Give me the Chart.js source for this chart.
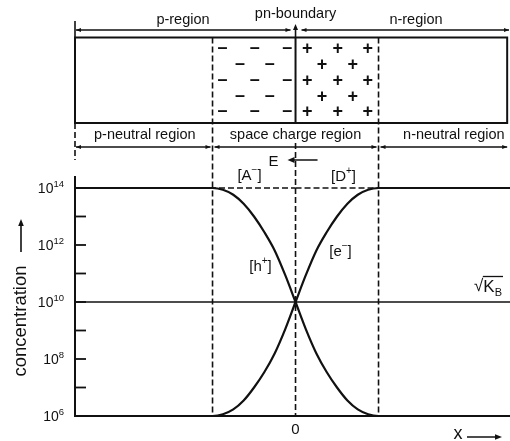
<!DOCTYPE html>
<html>
<head>
<meta charset="utf-8">
<script src="https://cdn.jsdelivr.net/npm/chart.js@4/dist/chart.umd.min.js"></script>
<style>
  html, body { margin: 0; padding: 0; background: #fff; }
  canvas { display: block; }
</style>
</head>
<body>
<canvas id="c" width="510" height="441"></canvas>
<script>
// Position across the junction, in units of the space-charge half-width (pn-boundary at 0)
const depletionX = [-1, -0.875, -0.75, -0.625, -0.5, -0.375, -0.25, -0.125, 0,
                    0.125, 0.25, 0.375, 0.5, 0.625, 0.75, 0.875, 1];
// Hole concentration [h+] through the space-charge region
const holeConc = [1e14, 8.7e13, 5.8e13, 2.8e13, 1e13, 2.8e12, 6.3e11, 8.9e10, 1e10,
                  1.1e9, 1.6e8, 3.5e7, 1e7, 3.5e6, 1.7e6, 1.15e6, 1e6];
// Electron concentration [e-] through the space-charge region
const electronConc = [1e6, 1.15e6, 1.7e6, 3.5e6, 1e7, 3.5e7, 1.6e8, 1.1e9, 1e10,
                      8.9e10, 6.3e11, 2.8e12, 1e13, 2.8e13, 5.8e13, 8.7e13, 1e14];
const acceptorConc = 1e14;   // [A-], p side
const donorConc = 1e14;      // [D+], n side
const intrinsicConc = 1e10;  // sqrt(K_B)
const yTickExps = [6, 8, 10, 12, 14];
const yMinorExps = [7, 9, 11, 13];
const xTickValues = [0];
const xMin = -2.657, xMax = 2.584;
const yMin = 1e6, yMax = 2.43e14;

// Fixed charges drawn in the space-charge region: [x, row]
const negCharges = [[-0.88, 0], [-0.49, 0], [-0.1, 0], [-0.67, 1], [-0.31, 1],
                    [-0.88, 2], [-0.49, 2], [-0.1, 2], [-0.67, 3], [-0.31, 3],
                    [-0.88, 4], [-0.49, 4], [-0.1, 4]];
const posCharges = [[0.14, 0], [0.51, 0], [0.87, 0], [0.32, 1], [0.69, 1],
                    [0.14, 2], [0.51, 2], [0.87, 2], [0.32, 3], [0.69, 3],
                    [0.14, 4], [0.51, 4], [0.87, 4]];

const INK = '#111';
const FAMILY = '"Liberation Sans", Arial, Helvetica, sans-serif';
const font = (s) => `${s}px ${FAMILY}`;

function withTails(xs, ys) {
  const pts = [{ x: xMin, y: ys[0] }];
  xs.forEach((v, i) => pts.push({ x: v, y: ys[i] }));
  pts.push({ x: xMax, y: ys[ys.length - 1] });
  return pts;
}

function text(ctx, s, x, y, size, align = 'center') {
  ctx.font = font(size);
  ctx.textAlign = align;
  ctx.textBaseline = 'middle';
  ctx.fillText(s, x, y);
}

// Text made of runs with their own size and vertical offset (super/subscripts)
function rich(ctx, parts, x, y, align = 'center') {
  let total = 0;
  parts.forEach(p => { ctx.font = font(p.s); p.w = ctx.measureText(p.t).width; total += p.w; });
  let cx = align === 'center' ? x - total / 2 : align === 'right' ? x - total : x;
  const start = cx;
  parts.forEach(p => {
    ctx.font = font(p.s);
    ctx.textAlign = 'left';
    ctx.textBaseline = 'middle';
    ctx.fillText(p.t, cx, y + (p.dy || 0));
    p.x0 = cx;
    cx += p.w;
  });
  return { start, end: cx, parts };
}

function line(ctx, x1, y1, x2, y2, w = 1.5, dash = []) {
  ctx.save();
  ctx.lineWidth = w;
  ctx.setLineDash(dash);
  ctx.beginPath();
  ctx.moveTo(x1, y1);
  ctx.lineTo(x2, y2);
  ctx.stroke();
  ctx.restore();
}

function head(ctx, x, y, dir, len = 6, half = 2.5) {
  ctx.beginPath();
  if (dir === 'left') { ctx.moveTo(x, y); ctx.lineTo(x + len, y - half); ctx.lineTo(x + len, y + half); }
  if (dir === 'right') { ctx.moveTo(x, y); ctx.lineTo(x - len, y - half); ctx.lineTo(x - len, y + half); }
  if (dir === 'up') { ctx.moveTo(x, y); ctx.lineTo(x - half, y + len); ctx.lineTo(x + half, y + len); }
  ctx.closePath();
  ctx.fill();
}

function dimension(ctx, x1, x2, y) {
  line(ctx, x1, y, x2, y, 1.4);
  head(ctx, x1, y, 'left', 5, 2);
  head(ctx, x2, y, 'right', 5, 2);
}

const junctionDiagram = {
  id: 'junctionDiagram',
  afterDraw(chart) {
    const { ctx, chartArea: ca, scales: { x, y } } = chart;
    const px = (v) => x.getPixelForValue(v);
    const L = ca.left, R = px(2.55);
    const boxTop = 37.5, boxBottom = 123;
    const bL = px(-1), b0 = px(0), bR = px(1);

    ctx.save();
    ctx.strokeStyle = INK;
    ctx.fillStyle = INK;

    // crystal block with the pn-boundary
    ctx.lineWidth = 2;
    ctx.strokeRect(L, boxTop, R - L, boxBottom - boxTop);
    line(ctx, b0, boxTop, b0, boxBottom, 2);

    // edges of the space-charge region, down to the axis
    line(ctx, bL, boxTop, bL, ca.bottom, 1.6, [6, 3]);
    line(ctx, bR, boxTop, bR, ca.bottom, 1.6, [6, 3]);
    line(ctx, b0, 143, b0, ca.bottom, 1.6, [6, 3]);
    line(ctx, L, boxBottom, L, 160, 1.6, [6, 3]);

    // fixed ionic charges
    const rowY = [49, 65, 81, 97, 112];
    ctx.font = 'bold ' + font(18);
    ctx.textAlign = 'center';
    ctx.textBaseline = 'middle';
    negCharges.forEach(([v, r]) => ctx.fillText('\u2013', px(v), rowY[r] - 1));
    posCharges.forEach(([v, r]) => ctx.fillText('+', px(v), rowY[r]));

    // region extents above the block
    line(ctx, L, 21, L, boxTop, 1.6);
    dimension(ctx, L + 1, b0 - 5, 30);
    dimension(ctx, b0 + 6, 509, 30);
    line(ctx, b0, boxTop, b0, 27, 1.6);
    head(ctx, b0, 24, 'up', 6, 2.5);
    text(ctx, 'p-region', 183, 20, 14.5);
    text(ctx, 'pn-boundary', b0, 14, 14.5);
    text(ctx, 'n-region', 416, 20, 14.5);

    // region names below the block
    text(ctx, 'p-neutral region', (L + bL) / 2 + 1, 135, 14.5);
    text(ctx, 'space charge region', b0, 135, 14.5);
    text(ctx, 'n-neutral region', (bR + R) / 2 + 11, 135, 14.5);
    dimension(ctx, L + 1, bL - 2, 147);
    dimension(ctx, bL + 2, bR - 2, 147);
    dimension(ctx, bR + 2, R, 147);

    // field direction
    text(ctx, 'E', b0 - 22, 162, 15);
    line(ctx, b0 + 22, 160, b0 - 4, 160, 1.5);
    head(ctx, b0 - 8, 160, 'left', 7, 3);

    // curve labels
    const sup = (base, sign) => [{ t: base, s: 15 }, { t: sign, s: 10, dy: -6 }, { t: ']', s: 15 }];
    rich(ctx, sup('[A', '\u2212'), b0 - 46, 176);
    rich(ctx, sup('[D', '+'), b0 + 48, 177);
    rich(ctx, sup('[h', '+'), b0 - 35, 267);
    rich(ctx, sup('[e', '\u2212'), b0 + 45, 252);

    // sqrt(K_B) label
    const r = rich(ctx, [{ t: '\u221A', s: 17 }, { t: 'K', s: 17, dy: 1 }, { t: 'B', s: 11, dy: 7 }], 488, 286);
    line(ctx, r.parts[1].x0 - 0.5, 276.5, r.end + 1, 276.5, 1.3);

    // y axis: tick marks inside the axis and power-of-ten labels
    yTickExps.concat(yMinorExps).forEach(e => {
      const yy = y.getPixelForValue(Math.pow(10, e));
      line(ctx, L, yy, L + 11, yy, 1.8);
    });
    yTickExps.forEach(e => {
      const yy = y.getPixelForValue(Math.pow(10, e));
      rich(ctx, [{ t: '10', s: 14 }, { t: String(e), s: 9.5, dy: -5 }], 64, yy + 1, 'right');
    });

    // axis titles
    ctx.save();
    ctx.translate(21, 321);
    ctx.rotate(-Math.PI / 2);
    text(ctx, 'concentration', 0, 0, 18.5);
    ctx.restore();
    line(ctx, 21, 252, 21, 224, 1.6);
    head(ctx, 21, 219, 'up', 7, 2.8);

    text(ctx, 'x', 458, 434, 18);
    line(ctx, 467, 437, 496, 437, 1.5);
    head(ctx, 502, 437, 'right', 7, 2.8);

    ctx.restore();
  }
};

const solid = { borderColor: INK, borderWidth: 2.2, pointRadius: 0, fill: false };
const dashed = { borderColor: INK, borderWidth: 1.6, borderDash: [6, 3], pointRadius: 0, fill: false };

new Chart(document.getElementById('c'), {
  type: 'line',
  data: {
    datasets: [
      { label: '[h+]', data: withTails(depletionX, holeConc), cubicInterpolationMode: 'monotone', ...solid },
      { label: '[e-]', data: withTails(depletionX, electronConc), cubicInterpolationMode: 'monotone', ...solid },
      { label: '[A-]', data: [{ x: xMin, y: acceptorConc }, { x: 0, y: acceptorConc }], ...dashed },
      { label: '[D+]', data: [{ x: 0, y: donorConc }, { x: xMax, y: donorConc }], ...dashed },
      { label: 'sqrt(KB)', data: [{ x: xMin, y: intrinsicConc }, { x: xMax, y: intrinsicConc }],
        borderColor: INK, borderWidth: 1.5, pointRadius: 0, fill: false }
    ]
  },
  options: {
    responsive: false,
    animation: false,
    devicePixelRatio: 1,
    layout: { padding: { top: 177, left: 0, right: 0, bottom: 0 } },
    plugins: { legend: { display: false }, tooltip: { enabled: false } },
    scales: {
      x: {
        type: 'linear',
        min: xMin,
        max: xMax,
        grid: { display: false, drawTicks: false },
        border: { display: true, color: INK, width: 2 },
        afterBuildTicks: (s) => { s.ticks = xTickValues.map(v => ({ value: v })); },
        afterFit: (s) => { s.height = 25; },
        ticks: { color: INK, font: { family: FAMILY, size: 15 }, padding: 5, maxRotation: 0,
                 callback: (v) => String(v) }
      },
      y: {
        type: 'logarithmic',
        min: yMin,
        max: yMax,
        grid: { display: false, drawTicks: false },
        border: { display: true, color: INK, width: 2 },
        ticks: { display: false },
        afterFit: (s) => { s.width = 75; }
      }
    }
  },
  plugins: [junctionDiagram]
});
</script>
</body>
</html>
